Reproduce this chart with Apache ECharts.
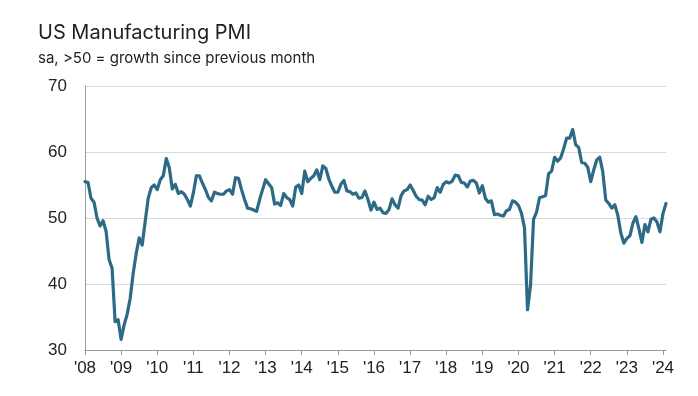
<!DOCTYPE html>
<html>
<head>
<meta charset="utf-8">
<script src="https://cdn.jsdelivr.net/npm/echarts@6/dist/echarts.min.js"></script>
<style>
  html, body { margin: 0; padding: 0; background: #ffffff; }
  #chart { width: 698px; height: 396px; }
</style>
</head>
<body>
<div id="chart"></div>
<script>
// Monthly US Manufacturing PMI, Jan 2008 - Feb 2024
const years = ['08','09','10','11','12','13','14','15','16','17','18','19','20','21','22','23','24'];
const v2008 = [55.5, 55.4, 53.0, 52.4, 50.0, 48.8, 49.6, 48.0, 43.7, 42.4, 34.3, 34.6];
const v2009 = [31.6, 33.8, 35.4, 37.8, 41.6, 44.6, 47.0, 45.9, 49.5, 53.0, 54.6, 55.0];
const v2010 = [54.3, 55.8, 56.4, 59.0, 57.6, 54.4, 55.1, 53.7, 54.0, 53.6, 52.8, 51.8];
const v2011 = [53.8, 56.4, 56.4, 55.3, 54.3, 53.1, 52.6, 53.9, 53.7, 53.6, 53.6, 54.1];
const v2012 = [54.3, 53.6, 56.1, 56.0, 54.3, 52.8, 51.5, 51.4, 51.2, 51.0, 52.8, 54.3];
const v2013 = [55.8, 55.2, 54.6, 52.1, 52.3, 51.9, 53.7, 53.1, 52.8, 51.8, 54.7, 55.0];
const v2014 = [53.7, 57.1, 55.5, 56.0, 56.4, 57.3, 55.8, 57.9, 57.5, 55.9, 54.8, 53.9];
const v2015 = [53.9, 55.1, 55.7, 54.1, 54.0, 53.6, 53.8, 53.0, 53.1, 54.1, 52.8, 51.2];
const v2016 = [52.4, 51.3, 51.5, 50.8, 50.7, 51.3, 52.9, 52.0, 51.5, 53.4, 54.1, 54.3];
const v2017 = [55.0, 54.2, 53.3, 52.8, 52.7, 52.0, 53.3, 52.8, 53.1, 54.6, 53.9, 55.1];
const v2018 = [55.5, 55.3, 55.6, 56.5, 56.4, 55.4, 55.3, 54.7, 55.6, 55.7, 55.3, 53.8];
const v2019 = [54.9, 53.0, 52.4, 52.6, 50.5, 50.6, 50.4, 50.3, 51.1, 51.3, 52.6, 52.4];
const v2020 = [51.9, 50.7, 48.5, 36.1, 39.8, 49.8, 50.9, 53.1, 53.2, 53.4, 56.7, 57.1];
const v2021 = [59.2, 58.6, 59.1, 60.5, 62.1, 62.1, 63.4, 61.1, 60.7, 58.4, 58.3, 57.7];
const v2022 = [55.5, 57.3, 58.8, 59.2, 57.0, 52.7, 52.2, 51.5, 52.0, 50.4, 47.7, 46.2];
const v2023 = [46.9, 47.3, 49.2, 50.2, 48.4, 46.3, 49.0, 47.9, 49.8, 50.0, 49.4, 47.9];
const v2024 = [50.7, 52.2];
const yTicks = [30, 40, 50, 60, 70];

const yearly = [v2008, v2009, v2010, v2011, v2012, v2013, v2014, v2015, v2016,
                v2017, v2018, v2019, v2020, v2021, v2022, v2023, v2024];
const categories = [];
const values = [];
yearly.forEach((arr, yi) => {
  arr.forEach((v, mi) => {
    categories.push("'" + years[yi] + '-' + (mi + 1));
    values.push(v);
  });
});

const chart = echarts.init(document.getElementById('chart'), null, { renderer: 'canvas' });
chart.setOption({
  animation: false,
  backgroundColor: '#ffffff',
  title: [
    {
      text: 'US Manufacturing PMI',
      left: 33, top: 18,
      textStyle: { fontFamily: 'Inter', fontSize: 20, fontWeight: 'normal', color: '#222222' }
    },
    {
      text: 'sa, >50 = growth since previous month',
      left: 33, top: 46,
      textStyle: { fontFamily: 'Inter', fontSize: 15, fontWeight: 'normal', color: '#222222' }
    }
  ],
  grid: { left: 85, right: 32, top: 86, bottom: 46, containLabel: false },
  xAxis: {
    type: 'category',
    data: categories,
    boundaryGap: false,
    axisLine: { show: true, lineStyle: { color: '#9a9a9a', width: 1 } },
    axisTick: {
      show: true, length: 5, lineStyle: { color: '#9a9a9a' },
      interval: (i) => i % 12 === 0
    },
    axisLabel: {
      interval: (i) => i % 12 === 0,
      formatter: (val) => val.split('-')[0],
      margin: 10,
      fontFamily: 'Liberation Sans', fontSize: 17, color: '#222222'
    },
    splitLine: { show: false }
  },
  yAxis: {
    type: 'value',
    min: yTicks[0], max: yTicks[yTicks.length - 1], interval: 10,
    axisLine: { show: true, lineStyle: { color: '#9a9a9a', width: 1 } },
    axisTick: { show: false },
    axisLabel: { margin: 18, fontFamily: 'Liberation Sans', fontSize: 17, color: '#222222' },
    splitLine: { show: true, lineStyle: { color: '#d9d9d9', width: 1 } }
  },
  series: [{
    type: 'line',
    data: values,
    showSymbol: false,
    symbol: 'none',
    lineStyle: { color: '#2c6a86', width: 3.2, join: 'round', cap: 'round' },
    itemStyle: { color: '#2c6a86' },
    z: 5
  }]
});
</script>
</body>
</html>
